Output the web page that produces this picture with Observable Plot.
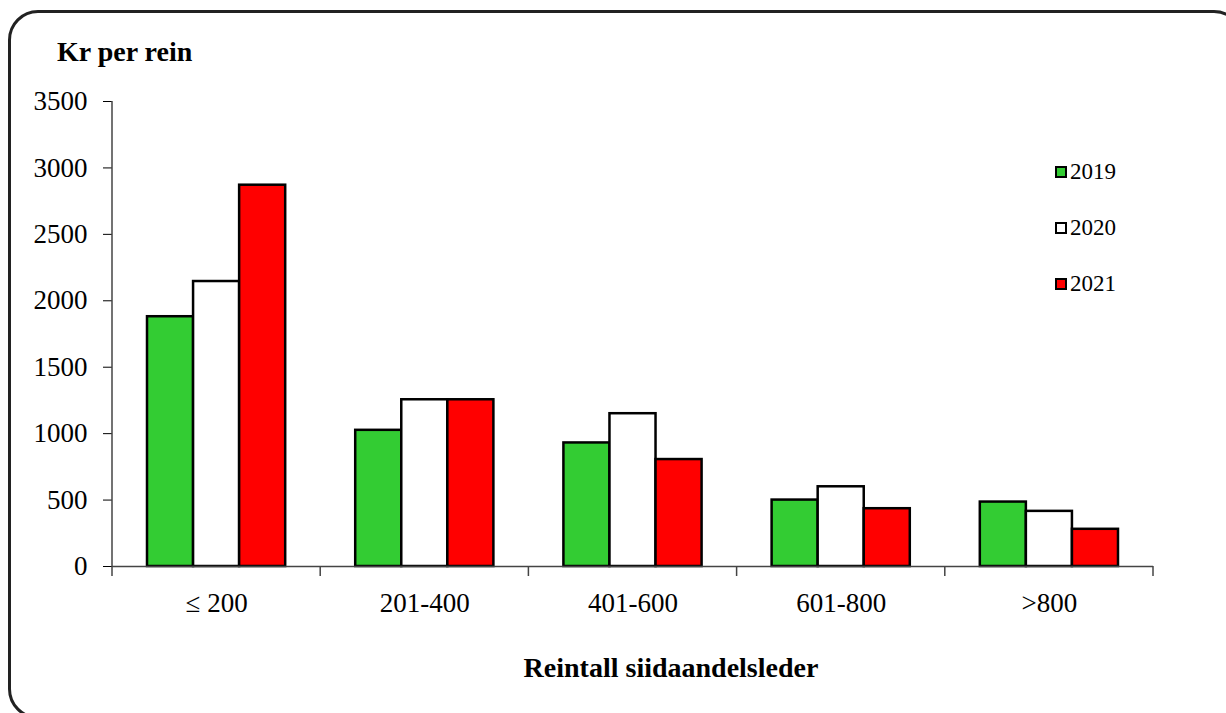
<!DOCTYPE html>
<html>
<head>
<meta charset="utf-8">
<script src="https://cdn.jsdelivr.net/npm/d3@7"></script>
<script src="https://cdn.jsdelivr.net/npm/@observablehq/plot@0.6"></script>
<style>
  html, body { margin: 0; padding: 0; background: #fff; overflow: hidden; }
  #wrap { position: relative; width: 1226px; height: 713px; overflow: hidden; font-family: "Liberation Serif", "Times New Roman", serif; color: #000; }
  #border { position: absolute; left: 8px; top: 10px; width: 1236px; height: 709px; border: 3px solid #222; border-radius: 30px; box-sizing: border-box; }
  #chart { position: absolute; left: 0; top: 0; }
  .ttl { position: absolute; font-weight: bold; font-size: 28px; white-space: nowrap; }
  #legend { position: absolute; left: 1055px; top: 159px; font-size: 23px; }
  .li { position: absolute; left: 0; white-space: nowrap; display: flex; align-items: center; }
  .sw { width: 12px; height: 12px; border: 2px solid #000; box-sizing: border-box; margin-right: 3px; }
</style>
</head>
<body>
<div id="wrap">
  <div id="border"></div>
  <div id="chart"></div>
  <div class="ttl" style="left:57px; top:36px;">Kr per rein</div>
  <div class="ttl" id="xt" style="left:671px; top:652px; transform: translateX(-50%);">Reintall siidaandelsleder</div>
  <div id="legend"></div>
</div>
<script>
const categories = ["≤ 200", "201-400", "401-600", "601-800", ">800"];
const years = ["2019", "2020", "2021"];
const v2019 = [1880, 1025, 930, 500, 485];
const v2020 = [2145, 1255, 1150, 600, 415];
const v2021 = [2870, 1255, 805, 435, 280];
const colors = ["#33cc33", "#ffffff", "#ff0000"];
const yTicks = [0, 500, 1000, 1500, 2000, 2500, 3000, 3500];

const series = [v2019, v2020, v2021];
const data = [];
categories.forEach((c, i) => years.forEach((y, j) => data.push({cat: c, year: y, value: series[j][i]})));

const W = 1226, H = 713;
const chart = Plot.plot({
  width: W,
  height: H,
  marginLeft: 112,
  marginRight: 73,
  marginTop: 101,
  marginBottom: 147,
  style: {fontFamily: "Liberation Serif, Times New Roman, serif", fontSize: "27px", color: "#000", background: "transparent"},
  fx: {domain: categories, padding: 0, round: false, tickSize: 0, tickPadding: 26, label: null, axis: "bottom"},
  x: {domain: years, axis: null, round: false, paddingInner: 0, paddingOuter: 0.76},
  y: {domain: [0, 3500], ticks: yTicks, tickFormat: "d", tickSize: 9, tickPadding: 16, label: null},
  color: {domain: years, range: colors},
  marks: [
    Plot.barY(data, {fx: "cat", x: "year", y: "value", fill: "year", stroke: "#000", strokeWidth: 2.5}),
    Plot.ruleY([0], {stroke: "#444", strokeWidth: 1.5})
  ]
});
document.getElementById("chart").appendChild(chart);

// axis lines: y-axis spine and boundary ticks on the x axis, from Plot's scales
const svg = d3.select(chart);
const fx = chart.scale("fx");
const ys = chart.scale("y");
const y0 = ys.apply(0), yTop = ys.apply(3500);
const bounds = categories.map(c => fx.apply(c));
bounds.push(fx.apply(categories[categories.length - 1]) + fx.bandwidth);
const g = svg.append("g").attr("stroke", "#444").attr("stroke-width", 1.5);
g.append("line").attr("x1", bounds[0]).attr("x2", bounds[0]).attr("y1", yTop).attr("y2", y0);
g.selectAll("line.bt").data(bounds).join("line").attr("class", "bt")
  .attr("x1", d => d).attr("x2", d => d).attr("y1", y0).attr("y2", y0 + 10);

// legend
const leg = d3.select("#legend");
years.forEach((y, i) => {
  const item = leg.append("div").attr("class", "li").style("top", (i * 56) + "px");
  item.append("div").attr("class", "sw").style("background", colors[i]);
  item.append("span").text(y);
});
</script>
</body>
</html>
